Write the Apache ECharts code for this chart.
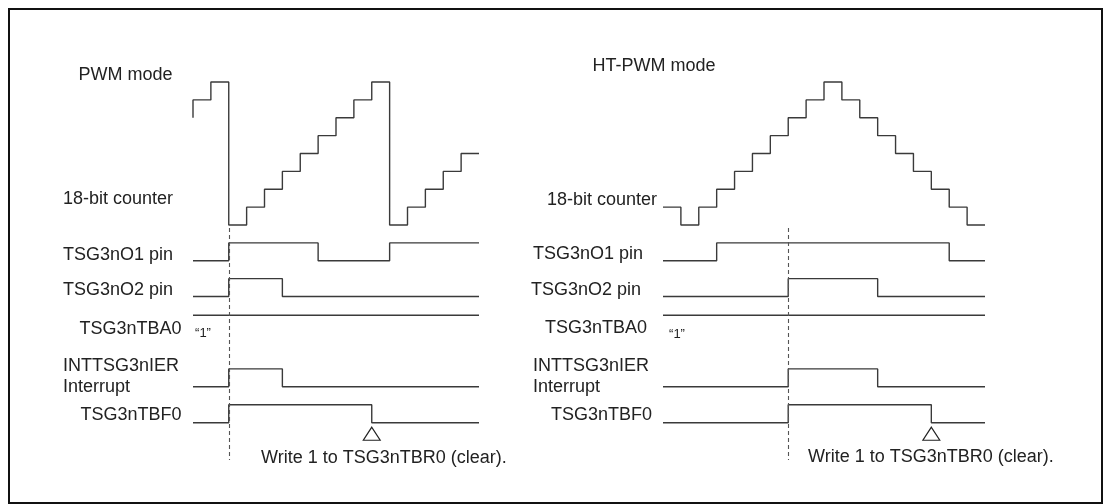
<!DOCTYPE html>
<html>
<head>
<meta charset="utf-8">
<script src="https://cdn.jsdelivr.net/npm/echarts@6/dist/echarts.min.js"></script>
<style>
html,body{margin:0;padding:0;background:#fff;}
#chart{width:1103px;height:504px;}
</style>
</head>
<body>
<div id="chart"></div>
<script>
// ---------- DATA ----------
// counter level held during each time unit
const pwmCounterStart = 6;
const pwmCounter = [7, 8, 0, 1, 2, 3, 4, 5, 6, 7, 8, 0, 1, 2, 3, 4];
const htCounter = [1, 0, 1, 2, 3, 4, 5, 6, 7, 8, 7, 6, 5, 4, 3, 2, 1, 0];
// digital signals: start low, toggle times
const pwmO1 = [2, 7, 11];
const pwmO2 = [2, 5];
const pwmINT = [2, 5];
const pwmTBF0 = [2, 10];
const htO1 = [3, 16];
const htO2 = [7, 12];
const htINT = [7, 12];
const htTBF0 = [7, 15];
const pwmEvent = 2;
const htEvent = 7;
const pwmClear = 10;
const htClear = 15;
const pwmLength = 16;
const htLength = 18;
const rowLabels = ['TSG3nO1 pin', 'TSG3nO2 pin', 'TSG3nTBA0', 'INTTSG3nIER\nInterrupt', 'TSG3nTBF0'];
const tba0Text = '\u201C1\u201D';
const clearText = 'Write 1 to TSG3nTBR0 (clear).';
const titles = ['PWM mode', 'HT-PWM mode'];
const counterLabel = '18-bit counter';

// ---------- LAYOUT ----------
const FONT = '"Liberation Sans", Arial, Helvetica, sans-serif';
const LINE = '#3a3a3a';
const rowBase = { o1: -2.0, o2: -4.0, tba0: -5.05, int: -9.05, tbf0: -11.06 };
const Y_MIN = -14, Y_MAX = 9;
const gridTop = 82 - 17.875, gridBottom = 504 - (225 + 14 * 17.875);

function counterPts(start, levels) {
  const pts = [];
  if (start !== null) pts.push([0, start]);
  levels.forEach((v, i) => pts.push([i, v]));
  pts.push([levels.length, levels[levels.length - 1]]);
  return pts;
}
function digitalPts(toggles, len, base) {
  const pts = [[0, base]];
  let lvl = 0;
  toggles.forEach(t => { lvl = 1 - lvl; pts.push([t, base + lvl]); });
  pts.push([len, base + lvl]);
  return pts;
}
function lineSeries(idx, data, extra) {
  return Object.assign({
    type: 'line', xAxisIndex: idx, yAxisIndex: idx, data: data, step: 'end',
    symbol: 'none', silent: true, animation: false,
    lineStyle: { color: LINE, width: 1.4 }
  }, extra || {});
}
function panelSeries(idx, cStart, counter, o1, o2, intr, tbf0, len, ev, clr) {
  return [
    lineSeries(idx, counterPts(cStart, counter)),
    lineSeries(idx, digitalPts(o1, len, rowBase.o1)),
    lineSeries(idx, digitalPts(o2, len, rowBase.o2)),
    lineSeries(idx, [[0, rowBase.tba0], [len, rowBase.tba0]]),
    lineSeries(idx, digitalPts(intr, len, rowBase.int)),
    lineSeries(idx, digitalPts(tbf0, len, rowBase.tbf0), {
      markLine: {
        silent: true, symbol: 'none', animation: false,
        lineStyle: { color: '#555', width: 1.1, type: [4, 3] },
        label: { show: false },
        data: [[{ coord: [ev, -0.17] }, { coord: [ev, -13.15] }]]
      },
      markPoint: {
        silent: true, animation: false,
        data: [{ coord: [clr, rowBase.tbf0], symbol: 'triangle', symbolSize: [17, 13], symbolOffset: [0, 11],
                 itemStyle: { color: '#fff', borderColor: '#222', borderWidth: 1.1 }, label: { show: false } }]
      }
    })
  ];
}

const chart = echarts.init(document.getElementById('chart'), null, { renderer: 'canvas' });

function txt(x, y, text, opts) {
  return Object.assign({
    type: 'text', x: x, y: y, silent: true,
    style: Object.assign({ text: text, font: '18px ' + FONT, fill: '#222', textVerticalAlign: 'middle', lineHeight: 21 }, (opts && opts.style) || {})
  }, (opts && opts.el) || {});
}

const labelsLeft = [
  txt(125.5, 75, titles[0], { style: { textAlign: 'center' } }),
  txt(63, 199, counterLabel),
  txt(63, 255, rowLabels[0]),
  txt(63, 290.5, rowLabels[1]),
  txt(130.5, 329, rowLabels[2], { style: { textAlign: 'center' } }),
  txt(63, 377, rowLabels[3]),
  txt(131, 415, rowLabels[4], { style: { textAlign: 'center' } }),
  txt(203, 333, tba0Text, { style: { textAlign: 'center', font: '13px ' + FONT } }),
  txt(261, 458, clearText)
];
const labelsRight = [
  txt(654, 66, titles[1], { style: { textAlign: 'center' } }),
  txt(547, 200.5, counterLabel),
  txt(533, 254.5, rowLabels[0]),
  txt(531, 290, rowLabels[1]),
  txt(596, 328, rowLabels[2], { style: { textAlign: 'center' } }),
  txt(533, 377, rowLabels[3]),
  txt(601.5, 415.5, rowLabels[4], { style: { textAlign: 'center' } }),
  txt(677, 334, tba0Text, { style: { textAlign: 'center', font: '13px ' + FONT } }),
  txt(808, 457.5, clearText)
];

const hiddenAxis = { show: false, axisLine: { show: false }, splitLine: { show: false }, axisTick: { show: false }, axisLabel: { show: false } };

chart.setOption({
  backgroundColor: '#fff',
  animation: false,
  grid: [
    { left: 193, width: 286, top: gridTop, bottom: gridBottom },
    { left: 663, width: 322, top: gridTop, bottom: gridBottom }
  ],
  xAxis: [
    Object.assign({ type: 'value', gridIndex: 0, min: 0, max: pwmLength }, hiddenAxis),
    Object.assign({ type: 'value', gridIndex: 1, min: 0, max: htLength }, hiddenAxis)
  ],
  yAxis: [
    Object.assign({ type: 'value', gridIndex: 0, min: Y_MIN, max: Y_MAX }, hiddenAxis),
    Object.assign({ type: 'value', gridIndex: 1, min: Y_MIN, max: Y_MAX }, hiddenAxis)
  ],
  series: [].concat(
    panelSeries(0, pwmCounterStart, pwmCounter, pwmO1, pwmO2, pwmINT, pwmTBF0, pwmLength, pwmEvent, pwmClear),
    panelSeries(1, null, htCounter, htO1, htO2, htINT, htTBF0, htLength, htEvent, htClear)
  ),
  graphic: [
    { type: 'rect', silent: true, shape: { x: 9, y: 9, width: 1093, height: 494 },
      style: { fill: 'none', stroke: '#111', lineWidth: 2 } }
  ].concat(labelsLeft, labelsRight)
});
</script>
</body>
</html>
